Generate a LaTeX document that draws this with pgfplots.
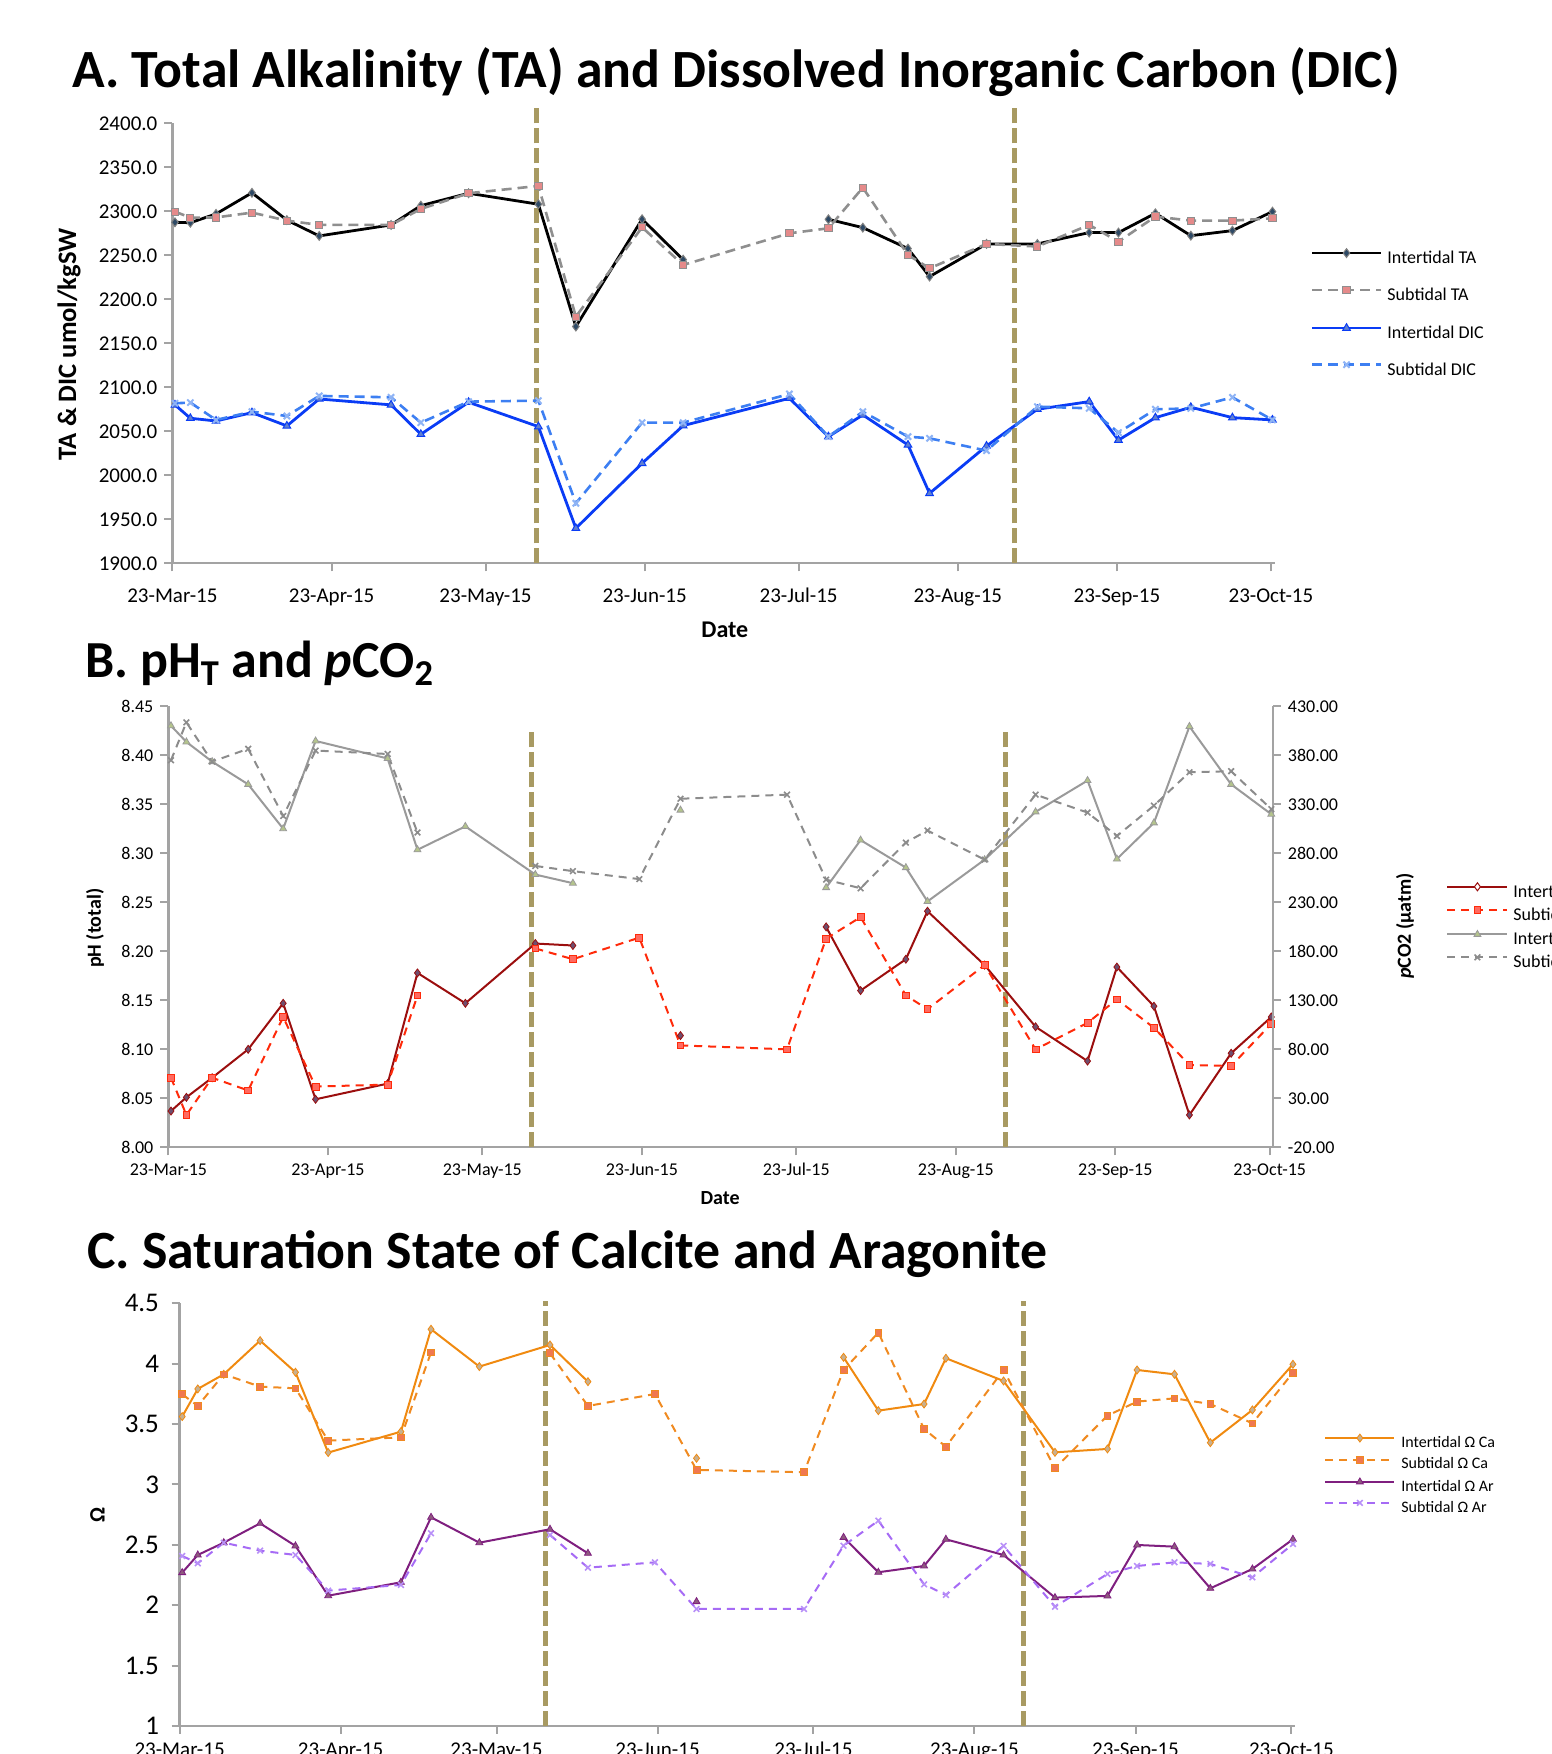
\documentclass[border=0pt]{standalone}
\usepackage{fontspec}
\setmainfont{Carlito}
\usepackage{pgfplots}
\usepackage{pgfplotstable}
\pgfplotsset{compat=1.18}

\definecolor{axisgray}{HTML}{A3A3A3}
\definecolor{vline}{HTML}{A89A62}
\definecolor{itaM}{HTML}{2E4A66}
\definecolor{staC}{HTML}{8F8F8F}
\definecolor{staM}{HTML}{E58A8A}
\definecolor{idicC}{HTML}{0A3CF5}
\definecolor{idicM}{HTML}{6080D0}
\definecolor{sdicC}{HTML}{3D7FF2}
\definecolor{sdicM}{HTML}{8FB4F5}
\definecolor{iphC}{HTML}{9B0E0E}
\definecolor{iphM}{HTML}{6E4E6E}
\definecolor{sphC}{HTML}{FF2A0A}
\definecolor{sphM}{HTML}{FF6A60}
\definecolor{ipcoC}{HTML}{9A9A9A}
\definecolor{ipcoM}{HTML}{B4C48C}
\definecolor{spcoC}{HTML}{8C8C8C}
\definecolor{icaC}{HTML}{F08A10}
\definecolor{icaM}{HTML}{C8B090}
\definecolor{scaC}{HTML}{F08A20}
\definecolor{scaM}{HTML}{F07850}
\definecolor{iarC}{HTML}{7F1F7F}
\definecolor{iarM}{HTML}{8E5A7E}
\definecolor{sarC}{HTML}{A66BF5}
\definecolor{sarM}{HTML}{B890F8}

% days after 23-Mar-15
\pgfplotstableread{
day   ita     sta     idic    sdic
0.5   2287.5  2299.6  2080.0  2081.8
3.5   2287.0  2292.8  2064.8  2082.6
8.5   2297.0  2293.0  2061.7  2062.9
15.5  2321.0  2298.5  2071.2  2072.3
22.3  2290.0  2289.4  2056.1  2067.4
28.6  2272.0  2284.5  2086.7  2090.2
42.6  2284.5  2284.5  2080.0  2088.6
48.4  2306.4  2302.7  2046.6  2059.8
57.7  2320.5  2320.5  2083.0  2083.7
71.3  2308.0  2328.8  2055.3  2084.8
78.6  2169.0  2180.3  1939.8  1968.2
91.5  2291.0  2281.8  2013.6  2059.8
99.5  2245.0  2239.0  2056.4  2059.8
120.2 nan     2275.0  2087.5  2092.4
127.8 2290.9  2280.7  2043.9  2043.9
134.5 2281.4  2326.9  2068.6  2072.3
143.3 2257.6  2250.4  2034.5  2043.9
147.5 2225.8  2235.2  1979.5  2042.0
158.6 2262.9  2262.9  2033.3  2028.0
168.5 2262.9  2260.0  2075.0  2078.0
178.6 2275.8  2284.5  2083.7  2076.1
184.3 2275.8  2265.5  2040.0  2048.5
191.5 2297.7  2294.0  2065.5  2075.0
198.4 2272.3  2289.4  2077.3  2076.0
206.5 2278.0  2289.4  2065.5  2088.6
214.3 2299.6  2292.0  2062.9  2062.9
}\tabA

\pgfplotstableread{
day   iph    sph    ipco   spco
0.5   8.037  8.071  410.3  375.1
3.5   8.051  8.033  393.8  413.8
8.5   8.071  8.071  373.7  373.7
15.5  8.100  8.058  350.5  386.8
22.3  8.147  8.133  305.2  318.2
28.6  8.049  8.062  394.8  385.0
42.6  8.065  8.064  376.9  381.5
48.4  8.178  8.155  283.7  301.3
57.7  8.147  nan    307.6  nan
71.3  8.208  8.203  258.4  267.2
78.6  8.206  8.192  249.6  261.9
91.5  nan    8.214  nan    253.8
99.5  8.114  8.104  324.2  335.8
120.2 nan    8.100  nan    340.0
127.8 8.225  8.213  245.1  253.2
134.5 8.160  8.235  293.6  244.4
143.3 8.192  8.155  265.5  291.1
147.5 8.241  8.141  231.0  303.4
158.6 8.186  8.186  273.6  273.6
168.5 8.123  8.100  322.4  340.0
178.6 8.088  8.127  354.4  321.7
184.3 8.184  8.151  274.3  297.8
191.5 8.144  8.122  311.2  328.8
198.4 8.033  8.084  409.6  362.9
206.5 8.096  8.083  350.5  363.9
214.3 8.133  8.126  320.0  325.2
}\tabB

\pgfplotstableread{
day   ica    sca    iar    sar
0.5   3.562  3.747  2.270  2.408
3.5   3.791  3.650  2.416  2.347
8.5   3.912  3.912  2.518  2.518
15.5  4.191  3.810  2.678  2.452
22.3  3.929  3.796  2.491  2.416
28.6  3.264  3.363  2.079  2.121
42.6  3.437  3.390  2.190  2.168
48.4  4.285  4.094  2.728  2.596
57.7  3.976  nan    2.518  nan
71.3  4.155  4.086  2.629  2.582
78.6  3.851  3.650  2.430  2.311
91.5  nan    3.749  nan    2.355
99.5  3.217  3.120  2.030  1.969
120.2 nan    3.101  nan    1.969
127.8 4.053  3.948  2.562  2.493
134.5 3.611  4.257  2.273  2.700
143.3 3.666  3.459  2.325  2.173
147.5 4.045  3.313  2.546  2.085
158.6 3.857  3.948  2.416  2.491
168.5 3.266  3.134  2.063  1.988
178.6 3.294  3.570  2.077  2.259
184.3 3.948  3.686  2.499  2.325
191.5 3.912  3.713  2.485  2.355
198.4 3.346  3.666  2.140  2.342
206.5 3.617  3.506  2.300  2.231
214.3 3.995  3.926  2.546  2.507
}\tabC

\pgfplotsset{
  panel/.style={
    scale only axis, anchor=south west, clip=false,
    axis x line*=bottom, axis y line*=left,
    axis line style={-, draw=axisgray, line width=1.2pt},
    tick style={draw=axisgray, line width=1pt},
    major tick length=4pt, tick align=outside,
    xmin=0,
    xtick={0,31,61,92,122,153,184,214},
    xticklabels={23-Mar-15,23-Apr-15,23-May-15,23-Jun-15,23-Jul-15,23-Aug-15,23-Sep-15,23-Oct-15},
    unbounded coords=jump,
    /pgf/number format/assume math mode=true,
    legend cell align=left,
    label style={font=\bfseries},
  },
  vl/.style={vline, line width=2.5pt, dash pattern=on 7.5pt off 2.5pt, forget plot},
}

\begin{document}
\begin{tikzpicture}

% ---------- A ----------
\node[anchor=base west, inner sep=0pt, font=\fontsize{26.9}{29}\selectfont\bfseries] at (36pt,833pt)
  {A. Total Alkalinity (TA) and Dissolved Inorganic Carbon (DIC)};
\begin{axis}[panel,
  at={(86.2pt,595.35pt)}, width=551.3pt, height=220pt,
  xmax=214.8, ymin=1900, ymax=2400, ytick={1900,1950,...,2400},
  tick label style={font=\fontsize{10.5}{12}\selectfont},
  xticklabel style={yshift=-4.5pt, text height=7.5pt, text depth=0pt},
  yticklabel style={/pgf/number format/.cd, fixed, fixed zerofill, precision=1, 1000 sep={}},
  xlabel={Date}, ylabel={TA \& DIC umol/kgSW},
  xlabel style={at={(axis description cs:0.501,-0.1516)}, anchor=center, font=\fontsize{12}{14}\selectfont\bfseries},
  ylabel style={at={(axis description cs:-0.0938,0.498)}, anchor=center, font=\fontsize{13.3}{15}\selectfont\bfseries},
  legend style={at={(axis description cs:1.0265,0.725)}, anchor=north west, draw=none, fill=none,
    font=\fontsize{9}{10}\selectfont, row sep=9.5pt, column sep=2.5pt,
    nodes={inner sep=0pt, text height=6.5pt, text depth=2pt}},
  legend image code/.code={\draw[mark repeat=2,mark phase=2,#1] plot coordinates {(0pt,3pt)(17.25pt,3pt)(34.5pt,3pt)};},
]
\addplot[vl] coordinates {(71.0,1900) (71.0,2420)};
\addplot[vl] coordinates {(164.1,1900) (164.1,2420)};
\addplot[black, line width=1.4pt, mark=diamond*, mark size=2.2pt, mark options={solid, fill=itaM, draw=gray, line width=0.5pt}] table[x=day,y=ita] {\tabA};
\addlegendentry{Intertidal TA}
\addplot[staC, line width=1.3pt, dash pattern=on 5pt off 3pt, mark=square*, mark size=1.8pt, mark options={solid, fill=staM, draw=staC, line width=0.5pt}] table[x=day,y=sta] {\tabA};
\addlegendentry{Subtidal TA}
\addplot[idicC, line width=1.4pt, mark=triangle*, mark size=2.2pt, mark options={solid, fill=idicM, draw=idicC, line width=0.5pt}] table[x=day,y=idic] {\tabA};
\addlegendentry{Intertidal DIC}
\addplot[sdicC, line width=1.3pt, dash pattern=on 5pt off 3pt, mark=x, mark size=2.2pt, mark options={solid, draw=sdicM, line width=1pt}] table[x=day,y=sdic] {\tabA};
\addlegendentry{Subtidal DIC}
\end{axis}

% ---------- B ----------
\node[anchor=base west, inner sep=0pt, font=\fontsize{26}{28}\selectfont\bfseries] at (42.5pt,538pt)
  {B. pH\textsubscript{T} and \textit{p}CO\textsubscript{2}};
\begin{axis}[panel,
  at={(84.2pt,303.35pt)}, width=552.2pt, height=220.4pt,
  xmax=214.6, ymin=8, ymax=8.45, ytick={8,8.05,...,8.46},
  tick label style={font=\fontsize{9}{11}\selectfont},
  xticklabel style={text height=6.5pt, text depth=0pt},
  yticklabel style={/pgf/number format/.cd, fixed, fixed zerofill, precision=2},
  xlabel={Date}, ylabel={pH (total)},
  xlabel style={at={(axis description cs:0.4995,-0.115)}, anchor=center, font=\fontsize{10}{12}\selectfont\bfseries},
  ylabel style={at={(axis description cs:-0.0665,0.497)}, anchor=center, font=\fontsize{10}{12}\selectfont\bfseries},
]
\addplot[vl] coordinates {(70.6,8) (70.6,8.425)};
\addplot[vl] coordinates {(162.6,8) (162.6,8.425)};
\addplot[iphC, line width=1pt, mark=diamond*, mark size=2pt, mark options={solid, fill=iphM, draw=iphC, line width=0.4pt}] table[x=day,y=iph] {\tabB};
\addplot[sphC, line width=1pt, dash pattern=on 4pt off 3pt, mark=square*, mark size=1.7pt, mark options={solid, fill=sphM, draw=sphC, line width=0.4pt}] table[x=day,y=sph] {\tabB};
\end{axis}
\begin{axis}[panel,
  at={(84.2pt,303.35pt)}, width=552.2pt, height=220.4pt,
  axis x line=none, axis y line*=right,
  xmax=214.6, ymin=-20, ymax=430, ytick={-20,30,...,430},
  tick label style={font=\fontsize{9}{11}\selectfont},
  yticklabel style={/pgf/number format/.cd, fixed, fixed zerofill, precision=2},
  ylabel={\textit{p}CO2 (µatm)},
  every axis y label/.style={at={(axis description cs:1.1197,0.502)}, anchor=center, rotate=90, font=\fontsize{10}{12}\selectfont\bfseries},
  legend style={at={(axis description cs:1.1514,0.610)}, anchor=north west, draw=none, fill=none,
    font=\fontsize{9}{10}\selectfont, row sep=3.4pt, column sep=2.5pt,
    nodes={inner sep=0pt, text height=6pt, text depth=1.5pt}},
  legend image code/.code={\draw[mark repeat=2,mark phase=2,#1] plot coordinates {(0pt,2.9pt)(15pt,2.9pt)(30pt,2.9pt)};},
]
\addlegendimage{iphC, line width=1pt, mark=diamond*, mark size=2pt, mark options={solid, fill=white, draw=iphC, line width=0.5pt}}
\addlegendentry{Intertidal pH}
\addlegendimage{sphC, line width=1pt, dash pattern=on 4pt off 3pt, mark=square*, mark size=1.7pt, mark options={solid, fill=sphM, draw=sphC, line width=0.4pt}}
\addlegendentry{Subtidal pH}
\addplot[ipcoC, line width=1pt, mark=triangle*, mark size=2pt, mark options={solid, fill=ipcoM, draw=ipcoC, line width=0.4pt}] table[x=day,y=ipco] {\tabB};
\addlegendentry{Intertidal pCO2}
\addplot[spcoC, line width=1pt, dash pattern=on 4pt off 3pt, mark=x, mark size=2pt, mark options={solid, draw=spcoC, line width=0.8pt}] table[x=day,y=spco] {\tabB};
\addlegendentry{Subtidal pCO2}
\end{axis}

% ---------- C ----------
\node[anchor=base west, inner sep=0pt, font=\fontsize{26.9}{29}\selectfont\bfseries] at (43.5pt,242.5pt)
  {C. Saturation State of Calcite and Aragonite};
\begin{axis}[panel,
  at={(89.8pt,14pt)}, width=557.7pt, height=211.35pt,
  xmax=214.7, ymin=1, ymax=4.5, ytick={1,1.5,...,4.5},
  xticklabel style={font=\fontsize{10.5}{12}\selectfont, text height=7.5pt, text depth=0pt},
  yticklabel style={font=\fontsize{13.5}{15}\selectfont, xshift=-2.8pt},
  ylabel={Ω},
  ylabel style={at={(axis description cs:-0.0736,0.499)}, anchor=center, font=\fontsize{11}{13}\selectfont\bfseries},
  legend style={at={(axis description cs:1.0206,0.701)}, anchor=north west, draw=none, fill=none,
    font=\fontsize{8}{9}\selectfont, row sep=3.0pt, column sep=3pt,
    nodes={inner sep=0pt, text height=5.5pt, text depth=1.5pt}},
  legend image code/.code={\draw[mark repeat=2,mark phase=2,#1] plot coordinates {(0pt,2.6pt)(17.25pt,2.6pt)(34.5pt,2.6pt)};},
]
\addplot[vl] coordinates {(70.5,1) (70.5,4.52)};
\addplot[vl] coordinates {(162.4,1) (162.4,4.52)};
\addplot[icaC, line width=1pt, mark=diamond*, mark size=2pt, mark options={solid, fill=icaM, draw=icaC, line width=0.4pt}] table[x=day,y=ica] {\tabC};
\addlegendentry{Intertidal Ω Ca}
\addplot[scaC, line width=1pt, dash pattern=on 4pt off 3pt, mark=square*, mark size=1.7pt, mark options={solid, fill=scaM, draw=scaC, line width=0.4pt}] table[x=day,y=sca] {\tabC};
\addlegendentry{Subtidal Ω Ca}
\addplot[iarC, line width=1pt, mark=triangle*, mark size=2pt, mark options={solid, fill=iarM, draw=iarC, line width=0.4pt}] table[x=day,y=iar] {\tabC};
\addlegendentry{Intertidal Ω Ar}
\addplot[sarC, line width=1pt, dash pattern=on 4pt off 3pt, mark=x, mark size=2pt, mark options={solid, draw=sarM, line width=0.8pt}] table[x=day,y=sar] {\tabC};
\addlegendentry{Subtidal Ω Ar}
\end{axis}

\pgfresetboundingbox
\path[use as bounding box] (0pt,0pt) rectangle (775.5pt,877pt);
\end{tikzpicture}
\end{document}
